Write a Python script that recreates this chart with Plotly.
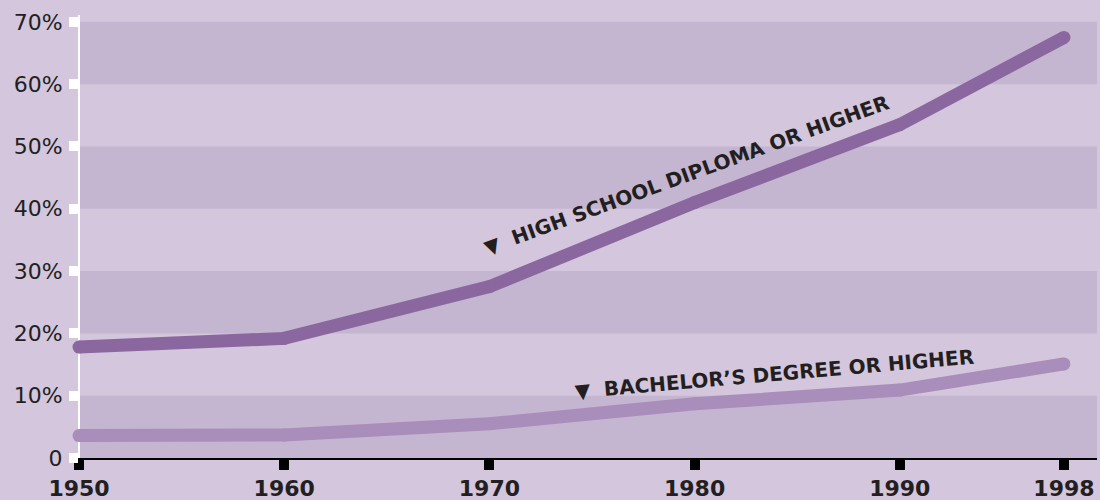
import plotly.graph_objects as go

# ---- data ----
years = [1950, 1960, 1970, 1980, 1990, 1998]
high_school = [17.8, 19.2, 27.5, 41.0, 53.5, 67.5]
bachelors = [3.6, 3.7, 5.5, 8.7, 10.9, 15.1]
x_tick_labels = ["1950", "1960", "1970", "1980", "1990", "1998"]
y_tick_vals = [0, 10, 20, 30, 40, 50, 60, 70]
y_tick_labels = ["0", "10%", "20%", "30%", "40%", "50%", "60%", "70%"]
band_starts = [0, 20, 40, 60]

# ---- style ----
BG = "#D3C6DD"
BAND = "#C4B5D0"
HS_COLOR = "#8B67A0"
BA_COLOR = "#A98DBA"
TEXT = "#231F20"
W, H = 1100, 500
X0_PX, X1_PX = 70, 1097
AXIS_PX = 79
PX_PER_YEAR = 20.52
x_lo = 1950 - (AXIS_PX - X0_PX) / PX_PER_YEAR
x_hi = 1950 + (X1_PX - AXIS_PX) / PX_PER_YEAR

fig = go.Figure()
fig.add_trace(go.Scatter(
    x=years, y=bachelors, mode="lines+markers",
    line=dict(color=BA_COLOR, width=13),
    marker=dict(color=BA_COLOR, size=13),
    hoverinfo="skip", showlegend=False))
fig.add_trace(go.Scatter(
    x=years, y=high_school, mode="lines+markers",
    line=dict(color=HS_COLOR, width=13),
    marker=dict(color=HS_COLOR, size=13),
    hoverinfo="skip", showlegend=False))

shapes = []
for b in band_starts:
    shapes.append(dict(type="rect", xref="x", yref="y", x0=1950, x1=x_hi,
                       y0=b, y1=b + 10, fillcolor=BAND, line=dict(width=0),
                       layer="below"))

annotations = [
    dict(text="\u25BC  HIGH SCHOOL DIPLOMA OR HIGHER", x=1979.6, y=45.4,
         xref="x", yref="y", showarrow=False, textangle=-20,
         font=dict(family="DejaVu Sans", size=20, color=TEXT, weight="bold")),
    dict(text="\u25BC  BACHELOR\u2019S DEGREE OR HIGHER", x=1983.9, y=13.5,
         xref="x", yref="y", showarrow=False, textangle=-5,
         font=dict(family="DejaVu Sans", size=20, color=TEXT, weight="bold")),
]

fig.update_layout(
    width=W, height=H,
    margin=dict(l=0, r=0, t=15, b=42, autoexpand=False),
    paper_bgcolor=BG, plot_bgcolor=BG,
    shapes=shapes, annotations=annotations,
    showlegend=False,
    xaxis=dict(
        domain=[X0_PX / W, X1_PX / W], range=[x_lo, x_hi],
        showgrid=False, zeroline=False, automargin=False,
        showline=True, linecolor="black", linewidth=2,
        ticks="outside", ticklen=10, tickwidth=10, tickcolor="black",
        tickvals=years, ticktext=x_tick_labels,
        tickfont=dict(family="DejaVu Sans", size=22, color=TEXT, weight="bold"),
        ticklabelstandoff=0, layer="below traces", fixedrange=True),
    yaxis=dict(
        range=[0, 71.1], anchor="free", position=AXIS_PX / W,
        showgrid=False, zeroline=False, automargin=False,
        showline=True, linecolor="white", linewidth=2,
        ticks="outside", ticklen=9, tickwidth=10, tickcolor="white",
        tickvals=y_tick_vals, ticktext=y_tick_labels,
        tickfont=dict(family="DejaVu Sans", size=22, color=TEXT),
        ticklabelstandoff=2, layer="below traces", fixedrange=True),
)

fig.write_html(
    "out.html",
    config={"displayModeBar": False, "staticPlot": True},
    post_script="document.body.style.margin='0';document.body.style.background='%s';" % BG,
)
